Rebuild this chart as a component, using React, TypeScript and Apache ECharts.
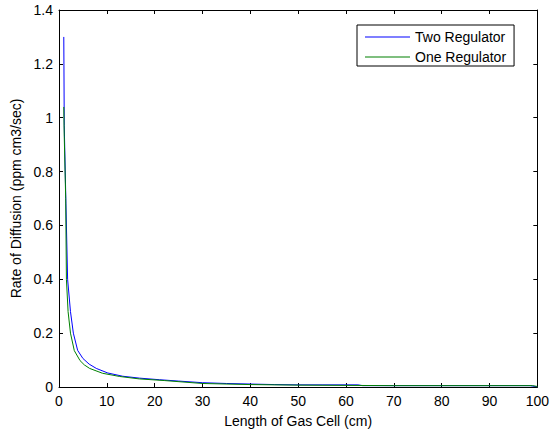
import React, { useEffect, useRef } from "react";
import * as echarts from "echarts";

const xTicks = { min: 0, max: 100, interval: 10 };
const yTicks = { min: 0, max: 1.4, interval: 0.2 };

const seriesNames = ["Two Regulator", "One Regulator"];

const twoRegX = [1, 1.1, 1.45, 1.8, 2.4, 3, 3.9, 5, 6.3, 7.8, 10.2, 13.3, 16.8, 21, 25, 30, 35, 40, 45, 50, 55, 60, 62.5, 63.5, 70, 80, 90, 98.5, 99.5, 100];
const twoRegY = [1.30, 0.97, 0.68, 0.40, 0.28, 0.20, 0.136, 0.106, 0.085, 0.069, 0.052, 0.04, 0.033, 0.027, 0.022, 0.016, 0.013, 0.011, 0.009, 0.008, 0.008, 0.008, 0.008, 0.005, 0.005, 0.005, 0.005, 0.005, 0.002, 0];

const oneRegX = [1, 1.1, 1.4, 1.55, 1.9, 2.4, 3.2, 4.4, 5.3, 6.4, 9.1, 12.7, 16.8, 22, 30, 40, 50, 60, 70, 80, 90, 99, 100];
const oneRegY = [1.04, 0.93, 0.70, 0.40, 0.28, 0.20, 0.135, 0.098, 0.082, 0.069, 0.051, 0.039, 0.03, 0.024, 0.013, 0.009, 0.007, 0.006, 0.005, 0.005, 0.005, 0.005, 0.002];

const FONT = "Liberation Sans, Arial, sans-serif";
const FS = 14;

export default function App() {
  const ref = useRef<HTMLDivElement>(null);
  useEffect(() => {
    document.body.style.margin = "0";
    const chart = echarts.init(ref.current!, null, { renderer: "svg" });
    const axisCommon = {
      type: "value" as const,
      axisLine: { show: true, onZero: false, lineStyle: { color: "#000", width: 1 } },
      axisTick: { show: true, inside: true, length: 4, lineStyle: { color: "#000" } },
      splitLine: { show: false },
    };
    const pairs = (xs: number[], ys: number[]) => xs.map((x, i) => [x, ys[i]]);
    chart.setOption({
      animation: false,
      backgroundColor: "#fff",
      textStyle: { fontFamily: FONT },
      grid: { left: 59, right: 12, top: 10, bottom: 44, containLabel: false },
      legend: {
        orient: "vertical",
        left: 357,
        top: 25,
        data: seriesNames,
        backgroundColor: "#fff",
        borderColor: "#000",
        borderWidth: 1,
        padding: [5, 8, 2, 8],
        itemGap: 6,
        itemWidth: 45,
        itemHeight: 2,
        icon: "path://M0 0H45V1H0Z",
        textStyle: { fontFamily: FONT, fontSize: FS, color: "#000" },
      },
      xAxis: [
        {
          ...axisCommon,
          ...xTicks,
          position: "bottom",
          name: "Length of Gas Cell (cm)",
          nameLocation: "middle",
          nameGap: 27,
          nameTextStyle: { fontFamily: FONT, fontSize: FS, color: "#000" },
          axisLabel: { fontFamily: FONT, fontSize: FS, color: "#000", margin: 7 },
        },
        {
          ...axisCommon,
          ...xTicks,
          position: "top",
          axisLabel: { show: false },
        },
      ],
      yAxis: [
        {
          ...axisCommon,
          ...yTicks,
          position: "left",
          name: "Rate of Diffusion (ppm cm3/sec)",
          nameLocation: "middle",
          nameGap: 34,
          nameTextStyle: { fontFamily: FONT, fontSize: FS, color: "#000" },
          axisLabel: { fontFamily: FONT, fontSize: FS, color: "#000", margin: 6 },
        },
        {
          ...axisCommon,
          ...yTicks,
          position: "right",
          axisLabel: { show: false },
        },
      ],
      series: [
        {
          name: seriesNames[0],
          type: "line",
          data: pairs(twoRegX, twoRegY),
          showSymbol: false,
          symbol: "none",
          lineStyle: { color: "#0000ff", width: 1 },
          itemStyle: { color: "#0000ff" },
          xAxisIndex: 0,
          yAxisIndex: 0,
        },
        {
          name: seriesNames[1],
          type: "line",
          data: pairs(oneRegX, oneRegY),
          showSymbol: false,
          symbol: "none",
          lineStyle: { color: "#008000", width: 1 },
          itemStyle: { color: "#008000" },
          xAxisIndex: 0,
          yAxisIndex: 0,
        },
      ],
    });
    return () => chart.dispose();
  }, []);
  return <div ref={ref} style={{ width: 552, height: 433 }} />;
}
